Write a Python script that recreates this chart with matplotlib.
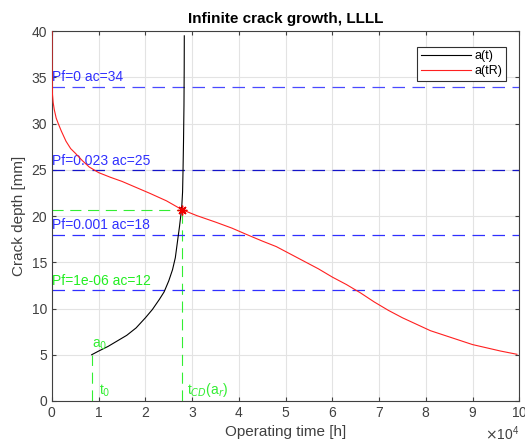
import numpy as np
import matplotlib
matplotlib.use("Agg")
import matplotlib.pyplot as plt
from matplotlib.ticker import ScalarFormatter

plt.rcParams['font.family'] = ['Liberation Sans', 'DejaVu Sans']

# crack growth a(t), time in hours, depth in mm
t_grow = [8500, 10000, 12000, 14000, 16000, 18000, 20000, 21500, 23000, 24000,
          25000, 25800, 26400, 26900, 27300, 27600, 27800, 27950, 28050, 28150,
          28250, 28300, 28320]
a_grow = [5.0, 5.4, 5.9, 6.5, 7.1, 7.9, 9.0, 9.9, 11.0, 11.8,
          13.0, 14.2, 15.5, 17.4, 18.9, 20.2, 21.2, 22.6, 25.0, 28.0,
          32.0, 36.0, 39.5]

# residual-strength curve a(tR)
t_res = [0, 10, 40, 100, 250, 500, 900, 1350, 2000, 3000, 4000, 5000, 6500,
         8000, 10000, 12500, 15000, 18000, 21000, 24500, 27800, 31000, 35000,
         38500, 41700, 45000, 48000, 51000, 54000, 57000, 60000, 63000, 66000,
         69000, 72000, 75000, 78000, 81000, 84000, 87000, 90000, 93000, 96000, 99500]
a_res = [40, 36.5, 34.5, 33.2, 32.3, 31.5, 30.6, 30.0, 29.2, 28.1, 27.3, 26.8, 26.0,
         25.3, 24.7, 24.2, 23.75, 23.1, 22.45, 21.65, 20.7, 20.05, 19.35,
         18.7, 18.0, 17.3, 16.7, 15.9, 15.1, 14.3, 13.4, 12.6, 11.7,
         10.7, 9.8, 9.0, 8.3, 7.6, 7.1, 6.6, 6.1, 5.75, 5.4, 5.05]

# critical depths and failure probabilities
ac_levels = [34, 25, 18, 12]
pf_labels = ['Pf=0 ac=34', 'Pf=0.023 ac=25', 'Pf=0.001 ac=18', 'Pf=1e-06 ac=12']
line_cols = ['#4a4aff', '#1414c8', '#3030ff', '#3030ff']
text_cols = ['#3030ff', '#3030ff', '#3030ff', '#22ee22']

t0, a0 = 8500, 5.0
t_cd, a_r = 27800, 20.7


class Fixed4Formatter(ScalarFormatter):
    def _set_order_of_magnitude(self):
        self.orderOfMagnitude = 4


fig = plt.figure(figsize=(5.25, 4.46), dpi=100)
ax = fig.add_axes([0.099, 0.101, 0.890, 0.829])

green = '#33ee33'
dash = (10, 6)
ax.plot([0, t_cd], [a_r, a_r], '--', color=green, lw=0.8, dashes=dash)
ax.plot([t_cd, t_cd], [0, a_r], '--', color=green, lw=0.8, dashes=dash)
ax.plot([t0, t0], [0, a0], '--', color=green, lw=0.8, dashes=dash)

for lev, lab, lc, tc in zip(ac_levels, pf_labels, line_cols, text_cols):
    ax.axhline(lev, ls='--', color=lc, lw=0.9, dashes=dash)
    ax.text(0, lev + 0.25, lab, color=tc, fontsize=10, ha='left', va='bottom')

ax.plot(t_grow, a_grow, color='black', lw=0.8, label='a(t)', zorder=3)
ax.plot(t_res, a_res, color='#ff2020', lw=0.8, label='a(tR)', zorder=3)
ax.plot([t_cd], [a_r], marker=(8, 2, 0), color='#ee0000', ms=7, mew=1.0, ls='none', zorder=4)

ax.text(t0, a0 + 0.3, r'a$_0$', color=green, fontsize=10, va='bottom')
ax.text(t0 + 1500, 0.2, r't$_0$', color=green, fontsize=10, va='bottom')
ax.text(t_cd + 1000, 0.2, r't$_{CD}$(a$_r$)', color=green, fontsize=10, va='bottom')

ax.set_xlim(0, 100000)
ax.set_ylim(0, 40)
ax.set_xticks(np.arange(0, 100001, 10000))
ax.set_yticks(np.arange(0, 41, 5))
fmt = Fixed4Formatter(useMathText=True)
fmt.set_scientific(True)
ax.xaxis.set_major_formatter(fmt)
ax.xaxis.get_offset_text().set_fontsize(10)
ax.xaxis.get_offset_text().set_color('#404040')

ax.grid(True, color='#e3e3e3', lw=0.8)
ax.set_axisbelow(True)
ax.tick_params(direction='in', top=True, right=True, labelsize=10, colors='#404040', length=3)
for sp in ax.spines.values():
    sp.set_color('#404040')
    sp.set_linewidth(0.8)

ax.set_xlabel('Operating time [h]', fontsize=11, color='#404040')
ax.set_ylabel('Crack depth [mm]', fontsize=11, color='#404040')
ax.set_title('Infinite crack growth, LLLL', fontsize=11, fontweight='bold')

leg = ax.legend(loc='upper right', fontsize=9, fancybox=False, framealpha=1,
                edgecolor='#303030', handlelength=4, borderpad=0.3,
                labelspacing=0.2, handletextpad=0.3, bbox_to_anchor=(0.985, 0.975))
leg.get_frame().set_linewidth(0.8)

fig.savefig('out.png', dpi=100)
